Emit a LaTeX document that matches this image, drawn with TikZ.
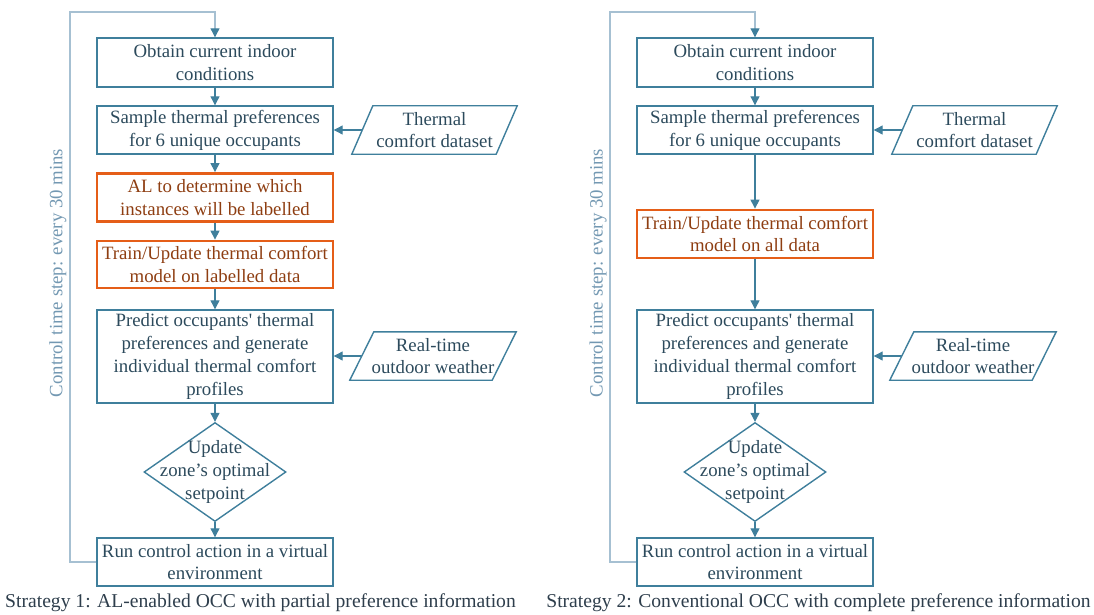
\documentclass[tikz,border=0pt]{standalone}
\usepackage{fontspec}
\setmainfont{Liberation Serif}
\usetikzlibrary{arrows.meta,shapes.geometric}
\definecolor{boxc}{HTML}{3F7F9C}
\definecolor{txt}{HTML}{2C4A5C}
\definecolor{orng}{HTML}{E55E18}
\definecolor{otxt}{HTML}{8E3E12}
\definecolor{loopc}{HTML}{A6C0D2}
\definecolor{rottxt}{HTML}{7398B2}
\definecolor{captc}{HTML}{2E3E4C}
\tikzset{
  every node/.style={font=\fontsize{18.8}{22.8}\selectfont},
  blk/.style={draw=boxc, line width=1.4pt, text=txt, align=center, minimum width=236pt, inner sep=0pt},
  oblk/.style={draw=orng, line width=2.8pt, text=otxt, align=center, minimum width=236pt, inner sep=0pt},
  pin/.style={text=txt, align=center, inner sep=0pt, minimum height=48pt},
  dia/.style={shape=diamond, draw=boxc, line width=1.4pt, minimum width=142pt, minimum height=99pt, inner sep=0pt},
  flow/.style={draw=boxc, line width=1.1pt, -{Triangle[length=9pt,width=9pt]}},
  loopl/.style={draw=loopc, line width=1.1pt, -{Triangle[length=9pt,width=9pt,color=boxc]}},
  rot/.style={rotate=90, text=rottxt},
  capt/.style={text=captc, font=\fontsize{19.6}{23}\selectfont},
}
\begin{document}
\begin{tikzpicture}[x=1pt,y=-1pt]
\useasboundingbox (0,0) rectangle (1094,615);
% ---------- Strategy 1 ----------
\node[blk, minimum height=49pt] (l1) at (215,62.5) {Obtain current indoor\\conditions};
\node[blk, minimum height=48pt] (l2) at (215,130) {Sample thermal preferences\\for 6 unique occupants};
\node[oblk, minimum height=48pt] (l3) at (215,197.5) {AL to determine which\\instances will be labelled};
\node[oblk, minimum height=47pt] (l4) at (215,264.5) {Train/Update thermal comfort\\model on labelled data};
\node[blk, minimum height=93pt] (l5) at (215,356.5) {Predict occupants\textquotesingle{} thermal\\preferences and generate\\individual thermal comfort\\profiles};
\node[dia, label={[align=center,text=txt,inner sep=0pt]center:Update\\zone’s optimal\\setpoint}] (ld) at (215,472) {};
\node[blk, minimum height=48pt] (l6) at (215,562) {Run control action in a virtual\\environment};
\node[pin, minimum width=165pt] (lt) at (434.5,130) {Thermal\\comfort dataset};
\draw[boxc, line width=1.4pt] ([xshift=21pt]lt.north west) -- (lt.north east) -- ([xshift=-21pt]lt.south east) -- (lt.south west) -- cycle;
\node[pin, minimum width=166pt] (lw) at (433,356) {Real-time\\outdoor weather};
\draw[boxc, line width=1.4pt] ([xshift=24pt]lw.north west) -- (lw.north east) -- ([xshift=-24pt]lw.south east) -- (lw.south west) -- cycle;
\coordinate (lc) at (70,12);
\draw[loopl] (l6.west) -| (lc) -| (l1.north);
\draw[flow] (l1) -- (l2);
\draw[flow] (l2) -- (l3);
\draw[flow] (l3) -- (l4);
\draw[flow] (l4) -- (l5);
\draw[flow] (l5) -- (ld);
\draw[flow] (ld) -- (l6);
\draw[flow] ([xshift=10.5pt]lt.west) -- (l2.east);
\draw[flow] ([xshift=12pt]lw.west) -- (l5.east |- lw.west);
\node[rot] (lr) at (58,273) {Control time step: every 30 mins};
\node[capt] (lcap) at (260.5,603) {Strategy 1: AL-enabled OCC with partial preference information};
% ---------- Strategy 2 ----------
\node[blk, minimum height=49pt] (r1) at (755,62.5) {Obtain current indoor\\conditions};
\node[blk, minimum height=48pt] (r2) at (755,130) {Sample thermal preferences\\for 6 unique occupants};
\node[oblk, minimum height=48pt] (r4) at (755,234) {Train/Update thermal comfort\\model on all data};
\node[blk, minimum height=93pt] (r5) at (755,356.5) {Predict occupants\textquotesingle{} thermal\\preferences and generate\\individual thermal comfort\\profiles};
\node[dia, label={[align=center,text=txt,inner sep=0pt]center:Update\\zone’s optimal\\setpoint}] (rd) at (755,472) {};
\node[blk, minimum height=48pt] (r6) at (755,562) {Run control action in a virtual\\environment};
\node[pin, minimum width=165pt] (rt) at (974.5,130) {Thermal\\comfort dataset};
\draw[boxc, line width=1.4pt] ([xshift=21pt]rt.north west) -- (rt.north east) -- ([xshift=-21pt]rt.south east) -- (rt.south west) -- cycle;
\node[pin, minimum width=166pt] (rw) at (973,356) {Real-time\\outdoor weather};
\draw[boxc, line width=1.4pt] ([xshift=24pt]rw.north west) -- (rw.north east) -- ([xshift=-24pt]rw.south east) -- (rw.south west) -- cycle;
\coordinate (rc) at (610,12);
\draw[loopl] (r6.west) -| (rc) -| (r1.north);
\draw[flow] (r1) -- (r2);
\draw[flow] (r2) -- (r4);
\draw[flow] (r4) -- (r5);
\draw[flow] (r5) -- (rd);
\draw[flow] (rd) -- (r6);
\draw[flow] ([xshift=10.5pt]rt.west) -- (r2.east);
\draw[flow] ([xshift=12pt]rw.west) -- (r5.east |- rw.west);
\node[rot] (rr) at (598,273) {Control time step: every 30 mins};
\node[capt] (rcap) at (818.5,603) {Strategy 2: Conventional OCC with complete preference information};
\end{tikzpicture}
\end{document}
